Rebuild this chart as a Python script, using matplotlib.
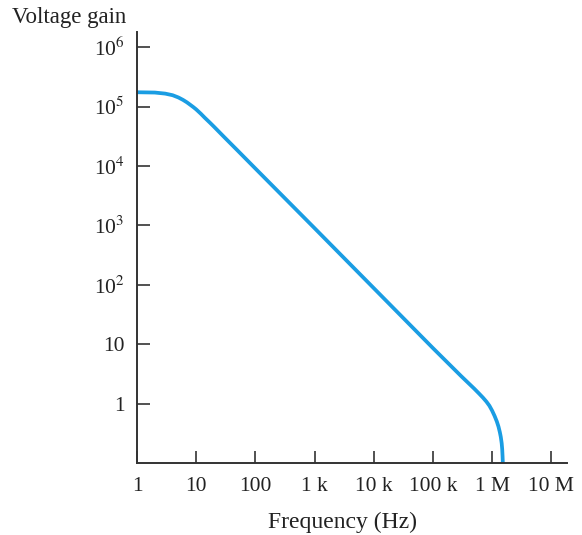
import numpy as np
import matplotlib
matplotlib.use("Agg")
from matplotlib import pyplot as plt

plt.rcParams['font.family'] = ['Liberation Serif', 'DejaVu Serif']
plt.rcParams['mathtext.fontset'] = 'stix'

# open-loop gain
freq = [1, 2, 3, 4, 5, 6, 7, 8, 9, 10, 12, 14, 17, 20, 30, 50, 100,
        1e3, 1e4, 1e5, 3e5, 5e5, 6e5, 7e5, 8e5, 9e5, 1e6, 1.1e6, 1.2e6, 1.28e6,
        1.35e6, 1.4e6, 1.45e6, 1.48e6, 1.5e6, 1.52e6, 1.53e6]
gain = [1.75e5, 1.73e5, 1.66e5, 1.56e5, 1.43e5, 1.3e5, 1.18e5, 1.07e5, 9.8e4,
        9.0e4, 7.6e4, 6.5e4, 5.4e4, 4.6e4, 3.05e4, 1.83e4, 9.1e3,
        900, 88, 8.6, 2.9, 1.78, 1.48, 1.26, 1.08, 0.92, 0.76, 0.62, 0.5, 0.41,
        0.33, 0.275, 0.215, 0.17, 0.13, 0.095, 0.07]

xticks = [1, 10, 100, 1e3, 1e4, 1e5, 1e6, 1e7]
xlabels = ['1', '10', '100', '1 k', '10 k', '100 k', '1 M', '10 M']
yticks = [1, 10, 1e2, 1e3, 1e4, 1e5, 1e6]
ylabels = ['1', '10', '10$^2$', '10$^3$', '10$^4$', '10$^5$', '10$^6$']

fig = plt.figure(figsize=(5.82, 5.35), dpi=100)
ax = fig.add_axes([137/582, 72/535, 430/582, 431/535])

ax.plot(freq, gain, color='#1a9de3', lw=2.7, solid_capstyle='butt')

ax.set_xscale('log')
ax.set_yscale('log')
ax.set_xlim(1, 1.84e7)
ax.set_ylim(0.1, 1.81e6)

ax.set_xticks(xticks)
ax.set_xticklabels(xlabels)
ax.set_yticks(yticks)
ax.set_yticklabels(ylabels)
ax.minorticks_off()

for s in ['top', 'right']:
    ax.spines[s].set_visible(False)
for s in ['left', 'bottom']:
    ax.spines[s].set_linewidth(1.4)
    ax.spines[s].set_color('#333333')

ax.tick_params(axis='both', direction='in', length=9, width=1.2, color='#333333',
               labelsize=15.5, labelcolor='#222222')
ax.tick_params(axis='x', pad=10)
ax.tick_params(axis='y', pad=9)

fig.text(12/582, 1 - 17/535, 'Voltage gain', ha='left', va='center',
         fontsize=16.5, color='#222222')
fig.text(343/582, 1 - 522/535, 'Frequency (Hz)', ha='center', va='center',
         fontsize=17, color='#222222')

fig.savefig('out.png', dpi=100)
